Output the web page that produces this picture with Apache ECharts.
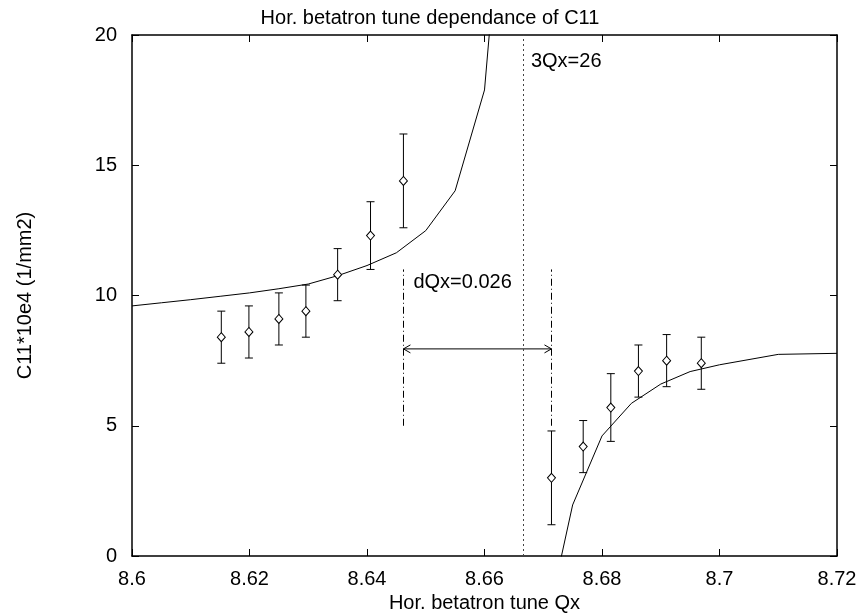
<!DOCTYPE html>
<html>
<head>
<meta charset="utf-8">
<script src="https://cdn.jsdelivr.net/npm/echarts@6/dist/echarts.min.js"></script>
<style>
  html, body { margin: 0; padding: 0; background: #fff; }
  #chart { width: 860px; height: 616px; }
</style>
</head>
<body>
<div id="chart"></div>
<script>
// measured points (Qx, C11*10e4) with error bar ends
const qx = [8.6152, 8.6199, 8.6250, 8.6296, 8.6350, 8.6406, 8.6462, 8.6714, 8.6768, 8.6815, 8.6862, 8.6910, 8.6969];
const c11 = [8.4, 8.6, 9.1, 9.4, 10.8, 12.3, 14.4, 3.0, 4.2, 5.7, 7.1, 7.5, 7.4];
const errLow = [7.4, 7.6, 8.1, 8.4, 9.8, 11.0, 12.6, 1.2, 3.2, 4.4, 6.1, 6.5, 6.4];
const errHigh = [9.4, 9.6, 10.1, 10.4, 11.8, 13.6, 16.2, 4.8, 5.2, 7.0, 8.1, 8.5, 8.4];

// theory curve, below and above the resonance
const fitQxLeft = [8.600, 8.605, 8.610, 8.615, 8.620, 8.625, 8.630, 8.635, 8.640, 8.645, 8.650, 8.655, 8.660, 8.665];
const fitLeft = [9.6, 9.72, 9.84, 9.97, 10.1, 10.26, 10.44, 10.76, 11.15, 11.64, 12.49, 14.02, 17.89, 31];
const fitQxRight = [8.670, 8.675, 8.680, 8.685, 8.690, 8.695, 8.700, 8.710, 8.720];
const fitRight = [-3.2, 1.96, 4.61, 5.86, 6.60, 7.08, 7.34, 7.74, 7.78];

// annotations
const resonanceQx = 26 / 3;
const dqxFrom = 8.6462;
const dqxTo = 8.6714;
const dqxArrowY = 7.95;
const dqxLineY = [5, 11];

const font = "'Liberation Sans', Arial, Helvetica, sans-serif";
const black = '#000';

const chart = echarts.init(document.getElementById('chart'));

const pointsData = qx.map((x, i) => [x, c11[i]]);
const errData = qx.map((x, i) => [x, errLow[i], errHigh[i]]);
const leftData = fitQxLeft.map((x, i) => [x, fitLeft[i]]);
const rightData = fitQxRight.map((x, i) => [x, fitRight[i]]);

const baseX = {
  type: 'value',
  min: 8.6,
  max: 8.72,
  interval: 0.02,
  splitLine: { show: false },
  axisLine: { show: true, onZero: false, lineStyle: { color: black, width: 1.5 } },
  axisTick: { show: true, inside: true, length: 7, lineStyle: { color: black } }
};
const baseY = {
  type: 'value',
  min: 0,
  max: 20,
  interval: 5,
  splitLine: { show: false },
  axisLine: { show: true, onZero: false, lineStyle: { color: black, width: 1.5 } },
  axisTick: { show: true, inside: true, length: 7, lineStyle: { color: black } }
};

chart.setOption({
  animation: false,
  backgroundColor: '#fff',
  textStyle: { fontFamily: font, color: black },
  title: {
    text: 'Hor. betatron tune dependance of C11',
    left: 'center',
    top: 3,
    textStyle: { fontFamily: font, fontSize: 20, fontWeight: 'normal', color: black }
  },
  grid: { left: 132, right: 23, top: 35, bottom: 60, containLabel: false, outerBoundsMode: 'none' },
  xAxis: [
    Object.assign({}, baseX, {
      position: 'bottom',
      name: 'Hor. betatron tune Qx',
      nameLocation: 'middle',
      nameGap: 37,
      nameTextStyle: { fontFamily: font, fontSize: 20, color: black },
      axisLabel: {
        margin: 13,
        fontFamily: font,
        fontSize: 20,
        color: black,
        formatter: v => String(+v.toFixed(2))
      }
    }),
    Object.assign({}, baseX, { position: 'top', axisLabel: { show: false } })
  ],
  yAxis: [
    Object.assign({}, baseY, {
      position: 'left',
      name: 'C11*10e4 (1/mm2)',
      nameLocation: 'middle',
      nameGap: 97,
      nameTextStyle: { fontFamily: font, fontSize: 20, color: black },
      axisLabel: { margin: 15, fontFamily: font, fontSize: 20, color: black }
    }),
    Object.assign({}, baseY, { position: 'right', axisLabel: { show: false } })
  ],
  series: [
    {
      type: 'line',
      data: leftData,
      showSymbol: false,
      clip: true,
      lineStyle: { color: black, width: 1 },
      markLine: {
        silent: true,
        symbol: 'none',
        label: { show: false },
        lineStyle: { color: '#444', width: 1, type: [2, 3] },
        data: [[{ coord: [resonanceQx, 0] }, { coord: [resonanceQx, 20] }]]
      }
    },
    {
      type: 'line',
      data: rightData,
      showSymbol: false,
      clip: true,
      lineStyle: { color: black, width: 1 },
      markLine: {
        silent: true,
        symbol: 'none',
        label: { show: false },
        lineStyle: { color: black, width: 1, type: [7, 3, 1, 3] },
        data: [
          [{ coord: [dqxFrom, dqxLineY[0]] }, { coord: [dqxFrom, dqxLineY[1]] }],
          [{ coord: [dqxTo, dqxLineY[0]] }, { coord: [dqxTo, dqxLineY[1]] }]
        ]
      }
    },
    {
      type: 'custom',
      data: errData,
      encode: { x: 0, y: [1, 2] },
      renderItem: (params, api) => {
        const x = api.value(0);
        const top = api.coord([x, api.value(2)]);
        const bot = api.coord([x, api.value(1)]);
        const w = 4;
        const st = { stroke: black, lineWidth: 1 };
        return {
          type: 'group',
          children: [
            { type: 'line', shape: { x1: top[0], y1: top[1], x2: bot[0], y2: bot[1] }, style: st },
            { type: 'line', shape: { x1: top[0] - w, y1: top[1], x2: top[0] + w, y2: top[1] }, style: st },
            { type: 'line', shape: { x1: bot[0] - w, y1: bot[1], x2: bot[0] + w, y2: bot[1] }, style: st }
          ]
        };
      }
    },
    {
      type: 'scatter',
      data: pointsData,
      symbol: 'diamond',
      symbolSize: [8, 9],
      itemStyle: { color: '#fff', borderColor: black, borderWidth: 1, opacity: 1 },
      z: 5
    },
    {
      // dQx arrow
      type: 'custom',
      data: [[dqxFrom, dqxTo, dqxArrowY]],
      encode: { x: [0, 1], y: 2 },
      renderItem: (params, api) => {
        const a = api.coord([api.value(0), api.value(2)]);
        const b = api.coord([api.value(1), api.value(2)]);
        const l = 7, h = 4;
        const st = { stroke: black, lineWidth: 1, fill: 'none' };
        return {
          type: 'group',
          children: [
            { type: 'line', shape: { x1: a[0], y1: a[1], x2: b[0], y2: b[1] }, style: st },
            { type: 'polyline', shape: { points: [[a[0] + l, a[1] - h], [a[0], a[1]], [a[0] + l, a[1] + h]] }, style: st },
            { type: 'polyline', shape: { points: [[b[0] - l, b[1] - h], [b[0], b[1]], [b[0] - l, b[1] + h]] }, style: st }
          ]
        };
      }
    },
    {
      // text labels
      type: 'scatter',
      symbolSize: 0,
      silent: true,
      itemStyle: { opacity: 1 },
      data: [
        { value: [8.6679, 19], label: { formatter: '3Qx=26' } },
        { value: [8.6479, 10.5], label: { formatter: 'dQx=0.026' } }
      ],
      label: {
        show: true,
        position: 'right',
        distance: 0,
        fontFamily: font,
        fontSize: 20,
        color: black
      }
    }
  ]
});
</script>
</body>
</html>
